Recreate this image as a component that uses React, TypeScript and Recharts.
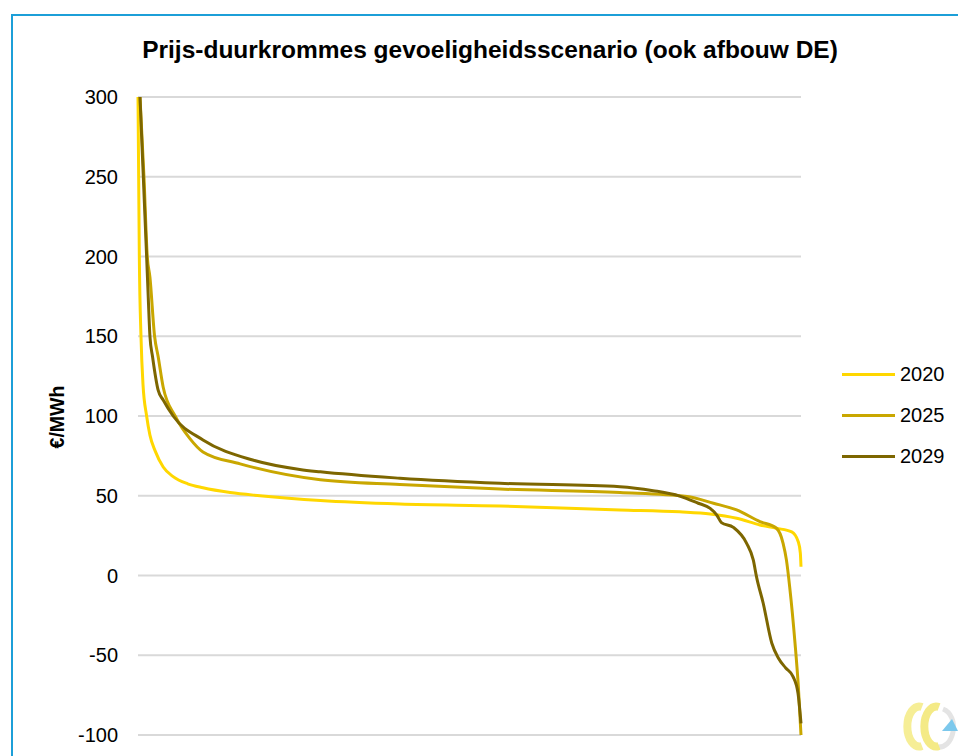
import React from 'react';
import { LineChart, Line, XAxis, YAxis, CartesianGrid } from 'recharts';

// share of the year's hours (%), sorted from highest to lowest price
const hours2020 = [0, 0.1, 0.2, 0.45, 0.75, 1.3, 1.8, 2.6, 3.8, 5.3, 7.5, 9.8, 13.9, 18.4, 27.5, 39.5, 54.6, 72.7, 81.7, 86.3, 90.3, 93.8, 96.3, 98.6, 99.6, 99.9, 100];
const price2020 = [300, 250, 200, 150, 120, 100, 88, 78, 68, 62, 57.5, 55, 52, 50, 47, 44.8, 43.6, 41.1, 39.9, 38.6, 35.9, 31.7, 29.6, 27.3, 21, 14, 5.5];

const hours2025 = [0.3, 0.9, 1.4, 1.8, 2.5, 3.05, 3.8, 5.6, 7.8, 9.8, 15.4, 27.5, 39.5, 54.6, 72.7, 82.8, 86.8, 90.3, 93.8, 96.3, 97.3, 97.8, 98.3, 99.1, 99.6, 100];
const price2025 = [300, 250, 200, 187, 150, 137, 118, 100, 86, 77.5, 70, 60, 57, 54.2, 52, 49.5, 45.3, 41.1, 33.8, 29.6, 20.2, 9.8, -7.4, -42.5, -69.7, -100];

const hours2029 = [0.3, 0.8, 1.3, 1.55, 1.8, 2.2, 3.05, 3.8, 5.3, 9.8, 17.3, 24.4, 27.5, 39.5, 54.6, 72.7, 77.7, 81.7, 84.5, 86.3, 87.3, 88, 89.8, 91.8, 92.8, 93.3, 94.3, 95.6, 96.6, 97.7, 98.8, 99.55, 100];
const price2029 = [300, 250, 200, 174, 150, 137, 116, 110, 100, 85, 72.4, 66.5, 65, 61, 57.8, 55.7, 53.2, 49.8, 45.3, 42.1, 37.9, 33.2, 30.2, 20.2, 9.8, -1, -17.4, -42.5, -51.9, -58, -63.4, -73.9, -92.7];

const yTicks = [-100, -50, 0, 50, 100, 150, 200, 250, 300];

const toPoints = (hours: number[], prices: number[]) =>
  hours.map((h, i) => ({ hours: h, price: prices[i] }));

const series = [
  { name: '2020', color: '#FFD700', data: toPoints(hours2020, price2020) },
  { name: '2025', color: '#C9A700', data: toPoints(hours2025, price2025) },
  { name: '2029', color: '#7D6600', data: toPoints(hours2029, price2029) },
];

const font = '"Liberation Sans", Arial, sans-serif';

function LegendBox() {
  return (
    <div style={{ position: 'absolute', left: 842, top: 354, fontFamily: font, fontSize: 20, color: '#000' }}>
      {series.map((s) => (
        <div key={s.name} style={{ display: 'flex', alignItems: 'center', height: 41 }}>
          <div style={{ width: 53, height: 3, background: s.color, marginRight: 5 }} />
          <span>{s.name}</span>
        </div>
      ))}
    </div>
  );
}

function Logo() {
  return (
    <svg width={63} height={56} style={{ position: 'absolute', left: 895, top: 700 }}>
      <path d="M48 9 C56 12 60 22 58 32 C56 42 50 48 42 47" fill="none" stroke="#E4E4E4" strokeWidth={5} />
      <path d="M27 7 A12 20 0 1 0 27 46" fill="none" stroke="#F6EE96" strokeWidth={8} />
      <path d="M44 7 A12 20 0 1 0 44 46" fill="none" stroke="#F4EA86" strokeWidth={8} />
      <polygon points="47,31 57,19 63,31" fill="#7CC8EC" />
    </svg>
  );
}

export default function App() {
  return (
    <div style={{ position: 'fixed', left: 0, top: 0, width: 958, height: 756, overflow: 'hidden', background: '#fff' }}>
      <div
        style={{
          position: 'absolute',
          left: 11,
          top: 14,
          width: 1000,
          height: 800,
          borderLeft: '2px solid #1C9FD8',
          borderTop: '2px solid #1C9FD8',
        }}
      />
      <div
        style={{
          position: 'absolute',
          left: 0,
          width: 980,
          top: 36,
          textAlign: 'center',
          fontFamily: font,
          fontWeight: 'bold',
          fontSize: 24.5,
          color: '#000',
        }}
      >
        Prijs-duurkrommes gevoeligheidsscenario (ook afbouw DE)
      </div>
      <div
        style={{
          position: 'absolute',
          left: 57,
          top: 417,
          transform: 'translate(-50%, -50%) rotate(-90deg)',
          fontFamily: font,
          fontWeight: 'bold',
          fontSize: 19.5,
          color: '#000',
          whiteSpace: 'nowrap',
        }}
      >
        €/MWh
      </div>
      <div style={{ position: 'absolute', left: 0, top: 0 }}>
        <LineChart width={958} height={756} margin={{ top: 97, right: 157, bottom: 21, left: 78 }}>
          <CartesianGrid vertical={false} stroke="#D9D9D9" strokeWidth={2} />
          <XAxis type="number" dataKey="hours" domain={[0, 100]} hide allowDuplicatedCategory={false} />
          <YAxis
            width={60}
            domain={[-100, 300]}
            ticks={yTicks}
            axisLine={false}
            tickLine={false}
            tickSize={0}
            tickMargin={20}
            tick={{ fill: '#000', fontSize: 20, fontFamily: font }}
          />
          {series.map((s) => (
            <Line
              key={s.name}
              data={s.data}
              dataKey="price"
              name={s.name}
              type="monotone"
              stroke={s.color}
              strokeWidth={3}
              dot={false}
              isAnimationActive={false}
            />
          ))}
        </LineChart>
      </div>
      <LegendBox />
      <Logo />
    </div>
  );
}
